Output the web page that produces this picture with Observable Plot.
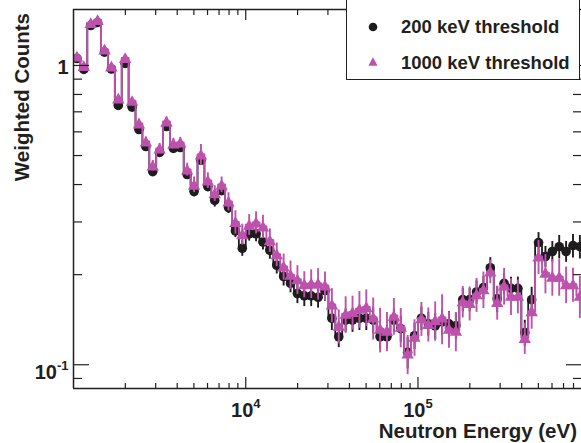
<!DOCTYPE html>
<html><head><meta charset="utf-8">
<script src="https://cdn.jsdelivr.net/npm/d3@7"></script>
<script src="https://cdn.jsdelivr.net/npm/@observablehq/plot@0.6"></script>
<style>
html,body{margin:0;padding:0;background:#fff;overflow:hidden;}
#wrap{position:relative;width:581px;height:443px;overflow:hidden;}
#legend{position:absolute;left:346px;top:-4px;width:234px;height:84px;border:1px solid #231f20;background:#fff;box-sizing:border-box;font:bold 18.5px "Liberation Sans",Arial,sans-serif;color:#231f20;}
#legend .lab{position:absolute;left:54px;line-height:20px;white-space:nowrap;}
#legend svg{position:absolute;}
</style></head>
<body><div id="wrap"><div id="plot"></div><div id="legend"></div></div>
<script>
// bin centres (eV), 25 log bins per decade from 1 keV
const energy = [1047,1148,1259,1380,1514,1660,1820,1995,2188,2399,2630,2884,3162,3467,3802,4169,4571,5012,5495,6026,6607,7244,7943,8710,9550,
10471,11482,12589,13804,15136,16596,18197,19953,21878,23988,26303,28840,31623,34674,38019,41687,45709,50119,54954,60256,66069,72444,79433,87096,95499,
104713,114815,125893,138038,151356,165959,181970,199526,218776,239883,263027,288403,316228,346737,380189,416869,457088,501187,549541,602560,660693,724436,794328,870964];
// 200 keV threshold (black circles)
const low = [1.055,0.970,1.360,1.392,1.108,0.973,0.735,1.016,0.726,0.611,0.536,0.442,0.512,0.625,0.528,0.532,0.432,0.379,0.482,0.394,0.354,0.382,0.335,0.280,0.245,
0.274,0.274,0.257,0.241,0.215,0.197,0.187,0.173,0.170,0.170,0.168,0.177,0.143,0.124,0.141,0.141,0.143,0.143,0.141,0.124,0.124,0.141,0.132,0.110,0.125,
0.143,0.137,0.135,0.139,0.137,0.135,0.165,0.165,0.175,0.181,0.211,0.166,0.187,0.180,0.180,0.128,0.165,0.256,0.230,0.239,0.248,0.239,0.250,0.248];
// 1000 keV threshold (magenta triangles)
const high = [1.072,0.996,1.387,1.419,1.131,0.992,0.776,1.059,0.762,0.640,0.557,0.463,0.528,0.650,0.549,0.553,0.449,0.400,0.504,0.413,0.374,0.400,0.351,0.300,0.273,
0.294,0.299,0.290,0.261,0.234,0.213,0.200,0.193,0.186,0.187,0.187,0.184,0.159,0.135,0.148,0.150,0.154,0.156,0.144,0.132,0.130,0.146,0.134,0.109,0.124,
0.143,0.137,0.141,0.144,0.132,0.130,0.163,0.161,0.172,0.179,0.205,0.162,0.184,0.170,0.170,0.123,0.151,0.230,0.203,0.197,0.197,0.186,0.186,0.170];
// relative errors (%)
const lowErr = [1.5,1.5,1.5,1.5,1.5,1.5,2,1.5,2, 2.5,2.5,3,3,2.5,3,3, 3.5,4,3.5,4,5,4,4.5, 5,6,5.5,6,6,6.5,6.5, 7,7,7.5,8,8,8,8,
9,8,9,9,9,9,10,9,9,9,10, 12,10,9,9,10,10,10,10, 9,9,9,9,8,10,8,9,9,10,10, 8,8,8,9,8,9,9];
const highErr = [2,2,2,2,2,2,2.5,2,2.5, 3.5,3.5,4,4,3.5,4,4, 5,6,8,6,6,6,7, 9,8,8,8.5,9,9,9, 10,11,11,10,11,12,11,
13,13,14,13,14,14,16,17,15,14,15, 15,14,13,13,15,19,14,15, 12,13,13,14,9,13,14,14,13,12,13, 13,15,14,14,14,13,16];
const seriesNames = ["200 keV threshold", "1000 keV threshold"];
const xMajor = [1e4, 1e5];
const xMajorLabels = ["10^4", "10^5"];
const xMinor = [2000,3000,4000,5000,6000,7000,8000,9000,20000,30000,40000,50000,60000,70000,80000,90000,200000,300000,400000,500000,600000,700000,800000];
const yMajor = [0.1, 1];
const yMajorLabels = ["10^-1", "1"];
const yMinor = [0.09,0.2,0.3,0.4,0.5,0.6,0.7,0.8,0.9];
const xTitle = "Neutron Energy (eV)";
const yTitle = "Weighted Counts";

const INK = "#231f20", BLACK = "#1e1c1d", MAG = "#bd52ad";
const FONT = '"Liberation Sans", Arial, sans-serif';
const rows = (vals, errs) => energy.map((E, i) => ({E, v: vals[i], lo: vals[i] * (1 - errs[i] / 100), hi: vals[i] * (1 + errs[i] / 100)}));
const lowRows = rows(low, lowErr), highRows = rows(high, highErr);
const xDomain = [1000, 8.9e5], yDomain = [0.0833, 1.538];

const ax = {fill: "none", label: null, stroke: INK, strokeWidth: 1.2};
const labelStyle = {fontSize: 20, fontWeight: "bold", fill: INK};

const svg = Plot.plot({
  width: 581, height: 443,
  marginLeft: 73, marginRight: 0, marginTop: 9, marginBottom: 55,
  x: {type: "log", domain: xDomain},
  y: {type: "log", domain: yDomain},
  style: {fontFamily: FONT, background: "#fff", color: INK},
  marks: [
    Plot.line(lowRows, {x: "E", y: "v", curve: "step", stroke: BLACK, strokeWidth: 1.8, clip: true}),
    Plot.ruleX(lowRows, {x: "E", y1: "lo", y2: "hi", stroke: BLACK, strokeWidth: 1.9, clip: true}),
    Plot.dot(lowRows, {x: "E", y: "v", r: 4.8, fill: BLACK, symbol: "circle", clip: true}),
    Plot.line(highRows, {x: "E", y: "v", curve: "step", stroke: MAG, strokeWidth: 1.9, clip: true}),
    Plot.ruleX(highRows, {x: "E", y1: "lo", y2: "hi", stroke: MAG, strokeWidth: 1.9, clip: true}),
    Plot.dot(highRows, {x: "E", y: "v", r: 4.6, dy: 1.5, fill: MAG, symbol: "triangle", clip: true}),
    // frame (left, bottom, top)
    Plot.ruleX([xDomain[0]], {stroke: INK, strokeWidth: 1.5}),
    Plot.ruleY([yDomain[0]], {stroke: INK, strokeWidth: 1.5}),
    Plot.ruleY([yDomain[1]], {stroke: INK, strokeWidth: 1.5}),
    // inward ticks
    Plot.axisX(xMajor, {...ax, anchor: "top", frameAnchor: "bottom", tickSize: 12}),
    Plot.axisX(xMinor, {...ax, anchor: "top", frameAnchor: "bottom", tickSize: 6}),
    Plot.axisX(xMajor, {...ax, anchor: "bottom", frameAnchor: "top", tickSize: 11}),
    Plot.axisX(xMinor, {...ax, anchor: "bottom", frameAnchor: "top", tickSize: 6}),
    Plot.axisY(yMajor, {...ax, anchor: "right", frameAnchor: "left", tickSize: 15}),
    Plot.axisY(yMinor, {...ax, anchor: "right", frameAnchor: "left", tickSize: 8}),
    Plot.axisY(yMajor, {...ax, anchor: "left", frameAnchor: "right", tickSize: 15}),
    Plot.axisY(yMinor, {...ax, anchor: "left", frameAnchor: "right", tickSize: 8}),
    // tick labels
    Plot.text(xMajor, {x: d => d, text: (d, i) => xMajorLabels[i], frameAnchor: "bottom", lineAnchor: "bottom", textAnchor: "middle", dy: 28.5, ...labelStyle}),
    Plot.text(yMajor, {y: d => d, text: (d, i) => yMajorLabels[i], filter: (d, i) => i === 0, frameAnchor: "left", textAnchor: "end", lineAnchor: "bottom", dx: -5, dy: 14.5, ...labelStyle}),
    Plot.text(yMajor, {y: d => d, text: (d, i) => yMajorLabels[i], filter: (d, i) => i === 1, frameAnchor: "left", textAnchor: "end", lineAnchor: "bottom", dx: -5, dy: 8.5, ...labelStyle})
  ]
});

// superscripts for power-of-ten labels
const NS = "http://www.w3.org/2000/svg";
svg.querySelectorAll("text").forEach(t => {
  const m = t.textContent.match(/^10\^(.+)$/);
  if (m) {
    t.textContent = "10";
    const s = document.createElementNS(NS, "tspan");
    s.setAttribute("dy", "-9.5");
    s.setAttribute("font-size", "13");
    s.textContent = m[1];
    t.appendChild(s);
  }
});

// axis titles
const g = d3.select(svg).append("g").attr("font-family", FONT).attr("font-weight", "bold").attr("font-size", 20.5).attr("fill", INK);
g.append("text").attr("x", 577).attr("y", 438).attr("text-anchor", "end").text(xTitle);
g.append("text").attr("transform", "translate(29,13) rotate(-90)").attr("text-anchor", "end").text(yTitle);

document.getElementById("plot").appendChild(svg);

// legend
const leg = document.getElementById("legend");
const legendRows = [
  {name: seriesNames[0], cy: 27, sym: `<svg width="14" height="14" style="left:19px;top:${27 + 3 - 7}px"><circle cx="7" cy="7" r="4.3" fill="${BLACK}"/></svg>`},
  {name: seriesNames[1], cy: 63, sym: `<svg width="14" height="14" style="left:19px;top:${62 + 3 - 7}px"><path d="M7,2.3L11.6,10.8L2.4,10.8Z" fill="${MAG}"/></svg>`}
];
legendRows.forEach(r => {
  leg.insertAdjacentHTML("beforeend", r.sym);
  const s = document.createElement("div");
  s.className = "lab";
  s.style.top = (r.cy + 3 - 10) + "px";
  s.textContent = r.name;
  leg.appendChild(s);
});
</script>
</body></html>
